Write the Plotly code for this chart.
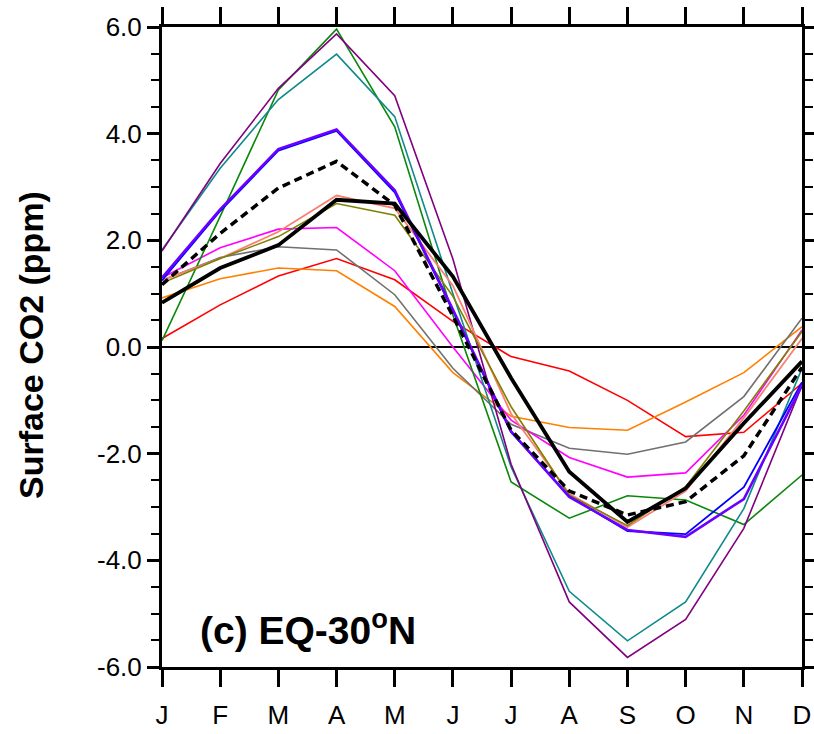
import plotly.graph_objects as go

months = ["J", "F", "M", "A", "M", "J", "J", "A", "S", "O", "N", "D"]
month_idx = list(range(12))

red     = [0.16, 0.79, 1.33, 1.66, 1.26, 0.48, -0.18, -0.45, -1.00, -1.68, -1.60, -0.68]
orange  = [0.92, 1.28, 1.48, 1.43, 0.76, -0.48, -1.30, -1.51, -1.56, -1.03, -0.48, 0.38]
gray    = [1.25, 1.68, 1.88, 1.82, 0.98, -0.40, -1.45, -1.90, -2.01, -1.78, -0.93, 0.54]
magenta = [1.30, 1.86, 2.21, 2.24, 1.43, 0.00, -1.37, -2.07, -2.44, -2.36, -1.28, 0.32]
green   = [0.12, 2.45, 4.82, 5.96, 4.13, 0.60, -2.53, -3.21, -2.79, -2.87, -3.33, -2.40]
teal    = [1.82, 3.35, 4.64, 5.49, 4.32, 1.00, -2.25, -4.58, -5.51, -4.78, -3.03, -0.40]
purple  = [1.80, 3.44, 4.85, 5.87, 4.71, 1.65, -2.20, -4.78, -5.82, -5.11, -3.40, -0.72]
salmon  = [1.25, 1.66, 2.16, 2.84, 2.60, 1.15, -1.25, -2.75, -3.38, -2.70, -1.33, 0.16]
olive   = [1.20, 1.66, 2.07, 2.69, 2.47, 0.95, -1.12, -2.78, -3.35, -2.62, -1.20, 0.29]
blue    = [1.25, 2.55, 3.68, 4.05, 2.90, 0.68, -1.60, -2.80, -3.45, -3.51, -2.63, -0.66]
violet  = [1.30, 2.58, 3.71, 4.08, 2.94, 0.70, -1.58, -2.81, -3.43, -3.56, -2.85, -0.72]
mean_dotted = [1.17, 2.13, 2.98, 3.48, 2.66, 0.58, -1.56, -2.70, -3.15, -2.90, -2.04, -0.38]
obs_black   = [0.83, 1.48, 1.91, 2.76, 2.69, 1.32, -0.58, -2.34, -3.28, -2.65, -1.43, -0.27]

ytick_vals = [-6, -4, -2, 0, 2, 4, 6]
ytick_text = ["-6.0", "-4.0", "-2.0", "0.0", "2.0", "4.0", "6.0"]

series = [
    (red, "#ff0000", 1.6, "solid"),
    (orange, "#ff8000", 1.6, "solid"),
    (gray, "#707070", 1.6, "solid"),
    (magenta, "#ff00ff", 1.6, "solid"),
    (green, "#0a880a", 1.6, "solid"),
    (teal, "#10898a", 1.6, "solid"),
    (purple, "#800080", 1.6, "solid"),
    (salmon, "#fa8072", 1.8, "solid"),
    (olive, "#808000", 1.6, "solid"),
    (blue, "#0000ff", 1.8, "solid"),
    (violet, "#6a00ff", 2.6, "solid"),
    (mean_dotted, "#000000", 3.5, "8px,5px"),
    (obs_black, "#000000", 3.8, "solid"),
]

fig = go.Figure()
for vals, col, w, dash in series:
    fig.add_trace(go.Scatter(x=month_idx, y=vals, mode="lines",
                             line=dict(color=col, width=w, dash=dash),
                             showlegend=False, hoverinfo="skip"))

font_main = "Liberation Sans, Arial, Helvetica, sans-serif"

fig.update_layout(
    width=814, height=734,
    margin=dict(l=162, r=12, t=27, b=67, autoexpand=False),
    paper_bgcolor="white", plot_bgcolor="white",
    font=dict(family=font_main, color="black", size=26),
    xaxis=dict(
        range=[0, 11], tickmode="array", tickvals=month_idx, ticktext=months,
        automargin=False,
        showgrid=False, zeroline=False, showline=True, linecolor="black", linewidth=3,
        mirror="ticks", ticks="outside", ticklen=17, tickwidth=3, tickcolor="black",
        ticklabelstandoff=6,
        tickfont=dict(size=26),
    ),
    yaxis=dict(
        range=[-6, 6], tickmode="array", tickvals=ytick_vals, ticktext=ytick_text,
        automargin=False,
        showgrid=False, zeroline=True, zerolinecolor="black", zerolinewidth=1.6,
        showline=True, linecolor="black", linewidth=3,
        mirror="ticks", ticks="outside", ticklen=12, tickwidth=3, tickcolor="black",
        tickfont=dict(size=26),
        minor=dict(dtick=0.5, tick0=0, ticks="outside", ticklen=8, tickwidth=2, tickcolor="black", showgrid=False),
    ),
    annotations=[
        dict(text="<b>Surface CO2 (ppm)</b>", xref="paper", yref="paper",
             x=(31 - 162) / 640, y=(667 - 345) / 640, xanchor="center", yanchor="middle",
             textangle=-90, showarrow=False, font=dict(size=34, family=font_main)),
        dict(text="<b>(c) EQ-30<sup>o</sup>N</b>", xref="paper", yref="paper",
             x=(198 - 162) / 640, y=(667 - 627) / 640, xanchor="left", yanchor="middle",
             showarrow=False, font=dict(size=39, family=font_main)),
    ],
)

fig.write_html("out.html")
